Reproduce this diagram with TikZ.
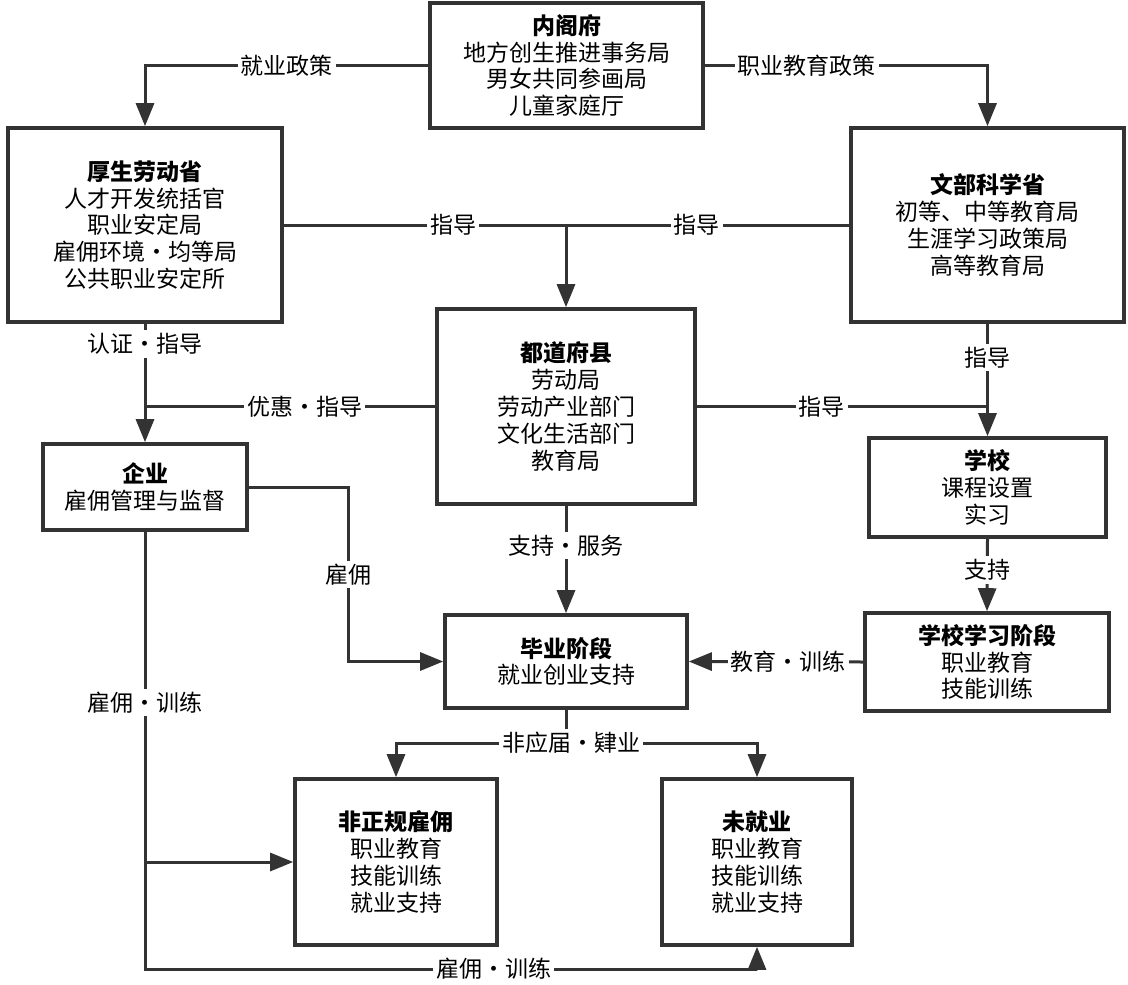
\documentclass[tikz,border=0pt]{standalone}
\usepackage{fontspec}
\setmainfont{Noto Sans CJK SC}
\usetikzlibrary{arrows.meta}

\tikzset{
  box/.style={draw=black!80, line width=1.8pt, align=center, inner sep=0pt,
    font=\fontsize{11.5}{13.4}\selectfont},
  lin/.style={draw=black!80, line width=1.5pt},
  arr/.style={lin, -{Triangle[length=11.5pt,width=9pt]}},
  lbl/.style={fill=white, inner sep=1.5pt, font=\fontsize{11.5}{13.4}\selectfont},
}

\begin{document}
\begin{tikzpicture}[x=0.5pt,y=-0.5pt]
\useasboundingbox (0,0) rectangle (1128,984);

% boxes
\node[box, minimum width=136.5pt, minimum height=62.5pt] (cab) at (566.5,65.5)
  {\textbf{内阁府}\\地方创生推进事务局\\男女共同参画局\\儿童家庭厅};
\node[box, minimum width=137pt, minimum height=97pt] (mhlw) at (145,225)
  {\textbf{厚生劳动省}\\人才开发统括官\\职业安定局\\雇佣环境・均等局\\公共职业安定所};
\node[box, minimum width=136.5pt, minimum height=97pt] (mext) at (987.5,225)
  {\textbf{文部科学省}\\初等、中等教育局\\生涯学习政策局\\高等教育局};
\node[box, minimum width=129pt, minimum height=97.5pt] (pref) at (566,406.5)
  {\textbf{都道府县}\\劳动局\\劳动产业部门\\文化生活部门\\教育局};
\node[box, minimum width=102pt, minimum height=43pt] (firm) at (145,487)
  {\textbf{企业}\\雇佣管理与监督};
\node[box, minimum width=118.5pt, minimum height=49.5pt] (school) at (987.5,487.5)
  {\textbf{学校}\\课程设置\\实习};
\node[box, minimum width=122pt, minimum height=49pt] (study) at (987,662)
  {\textbf{学校学习阶段}\\职业教育\\技能训练};
\node[box, minimum width=121pt, minimum height=46.5pt] (grad) at (566,661.5)
  {\textbf{毕业阶段}\\就业创业支持};
\node[box, minimum width=101pt, minimum height=83pt] (irreg) at (396,862)
  {\textbf{非正规雇佣}\\职业教育\\技能训练\\就业支持};
\node[box, minimum width=95pt, minimum height=83pt] (unemp) at (757,862)
  {\textbf{未就业}\\职业教育\\技能训练\\就业支持};

\coordinate (hire) at (348,487);
\coordinate (split) at (566,743);
\coordinate (low) at (145,969);

% connectors
\draw[arr] (cab.west) -| node[lbl, pos=0.25] {就业政策} (mhlw.north);
\draw[arr] (cab.east) -| node[lbl, pos=0.18] {职业教育政策} (mext.north);
\draw[lin] (mhlw.east) -- node[lbl, pos=0.3] {指导} node[lbl, pos=0.73] {指导} (mext.west);
\draw[arr] (mhlw.east -| pref.north) -- (pref.north);
\draw[arr] (mhlw.south) -- node[lbl, pos=0.17] {认证・指导} (firm.north);
\draw[lin] (pref.west) -- node[lbl, pos=0.45] {优惠・指导} (pref.west -| mhlw.south);
\draw[arr] (mext.south) -- node[lbl, pos=0.3] {指导} (school.north);
\draw[lin] (pref.east) -- node[lbl, pos=0.43] {指导} (pref.east -| mext.south);
\draw[arr] (school.south) -- node[lbl, pos=0.43] {支持} (study.north);
\draw[arr] (pref.south) -- node[lbl, pos=0.37] {支持・服务} (grad.north);
\draw[arr] (firm.east) -- (hire) |- node[lbl, pos=0.25] {雇佣} (grad.west);
\draw[arr] (study.west) -- node[lbl, pos=0.43] {教育・训练} (grad.east);
\draw[lin] (grad.south) -- (split);
\draw[arr] (split) -| (irreg.north);
\draw[arr] (split) -| (unemp.north);
\node[lbl, xshift=2.5pt] at (split) {非应届・肄业};
\draw[arr] (firm.south) -- node[lbl, pos=0.39] {雇佣・训练} (low)
  -- node[lbl, pos=0.57] {雇佣・训练} (low -| unemp.south) -- (unemp.south);
\draw[arr] (firm.south |- irreg.west) -- (irreg.west);

\end{tikzpicture}
\end{document}
